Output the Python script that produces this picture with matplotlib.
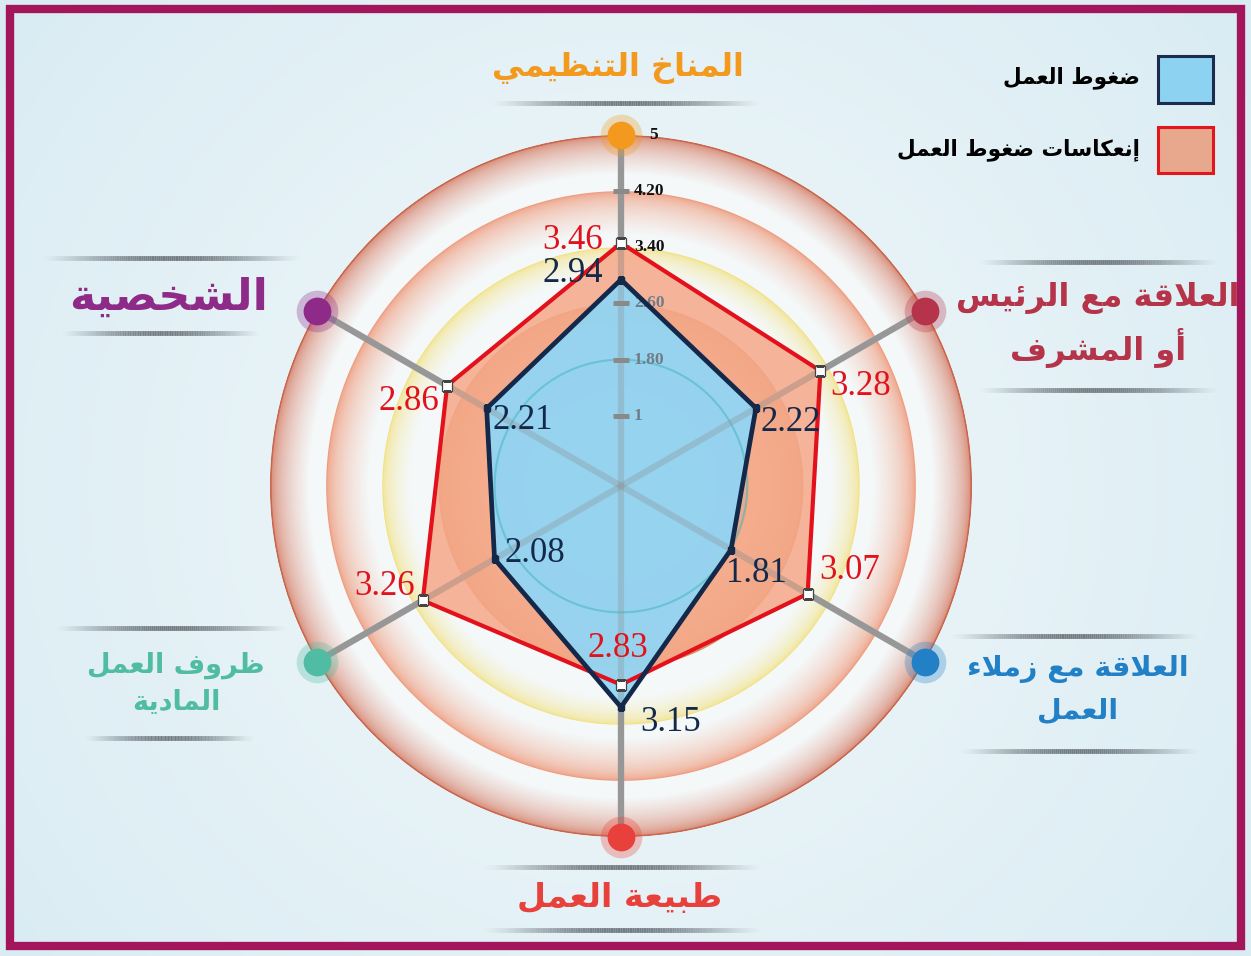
import numpy as np
import matplotlib.pyplot as plt
from matplotlib.colors import to_rgb
from matplotlib.collections import LineCollection
from matplotlib.patches import Rectangle

# ---- data ----
categories = ["المناخ التنظيمي", "العلاقة مع الرئيس\nأو المشرف", "العلاقة مع زملاء\nالعمل",
              "طبيعة العمل", "ظروف العمل\nالمادية", "الشخصية"]
work_stress = [2.94, 2.22, 1.81, 3.15, 2.08, 2.21]
stress_effects = [3.46, 3.28, 3.07, 2.83, 3.26, 2.86]
series_names = ["ضغوط العمل", "إنعكاسات ضغوط العمل"]
tick_values = [1, 1.8, 2.6, 3.4, 4.2, 5]
tick_labels = ["1", "1.80", "2.60", "3.40", "4.20", "5"]

cat_colors = ["#f39a1e", "#b5344a", "#2280c6", "#e8403a", "#50bca4", "#8e2a88"]

# ---- arabic shaping (matplotlib has no complex text layout) ----
FOUR = {'ئ': 0xFE89, 'ب': 0xFE8F, 'ت': 0xFE95, 'ث': 0xFE99, 'ج': 0xFE9D, 'ح': 0xFEA1,
        'خ': 0xFEA5, 'س': 0xFEB1, 'ش': 0xFEB5, 'ص': 0xFEB9, 'ض': 0xFEBD, 'ط': 0xFEC1,
        'ظ': 0xFEC5, 'ع': 0xFEC9, 'غ': 0xFECD, 'ف': 0xFED1, 'ق': 0xFED5, 'ك': 0xFED9,
        'ل': 0xFEDD, 'م': 0xFEE1, 'ن': 0xFEE5, 'ه': 0xFEE9, 'ي': 0xFEF1}
TWO = {'آ': 0xFE81, 'أ': 0xFE83, 'ؤ': 0xFE85, 'إ': 0xFE87, 'ا': 0xFE8D, 'ة': 0xFE93,
       'د': 0xFEA9, 'ذ': 0xFEAB, 'ر': 0xFEAD, 'ز': 0xFEAF, 'و': 0xFEED, 'ى': 0xFEEF}
LAMALEF = {'آ': 0xFEF5, 'أ': 0xFEF7, 'إ': 0xFEF9, 'ا': 0xFEFB}


def shape_line(s):
    out, i, n = [], 0, len(s)
    while i < n:
        c = s[i]
        prev = i > 0 and s[i - 1] in FOUR
        if c == 'ل' and i + 1 < n and s[i + 1] in LAMALEF:
            out.append(chr(LAMALEF[s[i + 1]] + (1 if prev else 0)))
            i += 2
            continue
        nxt = i + 1 < n and (s[i + 1] in FOUR or s[i + 1] in TWO or s[i + 1] == 'ء')
        if c in FOUR:
            b = FOUR[c]
            out.append(chr(b + 3 if prev and nxt else b + 1 if prev else b + 2 if nxt else b))
        elif c in TWO:
            out.append(chr(TWO[c] + (1 if prev else 0)))
        elif c == 'ء':
            out.append(chr(0xFE80))
        else:
            out.append(c)
        i += 1
    return ''.join(out)[::-1]


def ar(s):
    return '\n'.join(shape_line(l) for l in s.split('\n'))


def mix(c1, c2, t):
    a, b = np.array(to_rgb(c1)), np.array(to_rgb(c2))
    return tuple(a + (b - a) * t)


W, H = 1251, 956
fig = plt.figure(figsize=(W / 100, H / 100), dpi=100)

# ---- background ----
bg = fig.add_axes([0, 0, 1, 1])
bg.set_xlim(0, W)
bg.set_ylim(H, 0)
bg.axis('off')
yy, xx = np.mgrid[0:H:4, 0:W:4]
d = np.sqrt((xx - 621) ** 2 + (yy - 486) ** 2) / 800
d = np.clip(d, 0, 1)
c0, c1 = np.array(to_rgb('#f2f8fa')), np.array(to_rgb('#d9ecf3'))
img = c0 + (c1 - c0) * d[..., None]
bg.imshow(img, extent=[0, W, H, 0], aspect='auto', zorder=0)
bg.add_patch(Rectangle((10, 9), W - 20, H - 19, fill=False, ec='#a4165b', lw=6, zorder=10))

# separator shadows
seps = [(625, 103, 135), (1097, 262, 120), (1097, 390, 120), (1073, 636, 125), (1078, 751, 120),
        (621, 867, 140), (621, 930, 140), (170, 628, 117), (168, 738, 85), (170, 258, 130),
        (160, 333, 100)]
for cx, cy, hw in seps:
    xs = np.linspace(cx - hw, cx + hw, 120)
    segs = [[(xs[k], cy), (xs[k + 1], cy)] for k in range(len(xs) - 1)]
    u = (xs[:-1] - cx) / hw
    cols = [(0.3, 0.33, 0.36, 0.75 * max(0, 1 - abs(v) ** 2) ** 1.5) for v in u]
    bg.add_collection(LineCollection(segs, colors=cols, linewidths=3.5, zorder=2))

# ---- radar ----
R = 351
ax = fig.add_axes([(621 - R) / W, (H - 486 - R) / H, 2 * R / W, 2 * R / H], projection='polar')
ax.set_theta_zero_location('N')
ax.set_theta_direction(-1)
ax.set_ylim(0, 5)
ax.axis('off')
ax.patch.set_alpha(0)

full = np.linspace(0, 2 * np.pi, 361)
white = '#f4f8f9'


def ring(r_out, width, c_edge, c_in, n=40, p=0.5, z=1):
    for i in range(n):
        t = i / (n - 1)
        ax.fill(full, np.full_like(full, r_out - width * t), color=mix(c_edge, c_in, t ** p),
                lw=0, zorder=z)


ring(5.0, 0.55, '#d47a62', white)
ax.plot(full, np.full_like(full, 4.99), color='#c9664e', lw=1.2, zorder=1)
ring(4.2, 0.6, '#ee9c7e', white)
ring(3.4, 0.4, '#f1e07e', white, p=0.4)
ring(2.6, 0.6, '#d98f60', '#ebbd98')
ring(1.8, 0.45, '#35b2b5', '#bde6ee', p=0.35)

theta = np.arange(len(categories)) * 2 * np.pi / len(categories)

# spokes and ticks
for th in theta:
    ax.plot([th, th], [0, 5], color='#9c9c9c', lw=4.5, zorder=2, solid_capstyle='butt')
    ax.plot([th, th], [0, 5], color='#8c8c8c', lw=4.5, alpha=0.3, zorder=4.5,
            solid_capstyle='butt')
ax.plot(np.zeros(len(tick_values) - 1), tick_values[:-1], ls='none', marker='_', ms=11, mew=3.5,
        color='#8a8a8a', zorder=4.6)
for v, lab in zip(tick_values, tick_labels):
    col = '#111111' if v >= 3.4 else '#707c86'
    ax.annotate(lab, xy=(0, v), xytext=(28 if v == 5 else 13, 0), textcoords='offset pixels',
                ha='left', va='center', fontsize=12.5, fontweight='bold',
                family='Liberation Serif', color=col, zorder=4.7)

tc = np.append(theta, theta[0])
se = np.append(stress_effects, stress_effects[0])
ws = np.append(work_stress, work_stress[0])
ax.fill(tc, se, color='#f6a98a', alpha=0.85, lw=0, zorder=3)
ax.fill(tc, ws, color='#8fd6f7', alpha=0.92, lw=0, zorder=4)
ax.plot(full, np.full_like(full, 1.8), color='#35b2b5', lw=1.5, alpha=0.45, zorder=4.2)
ax.plot(tc, se, color='#e3111b', lw=3, zorder=5)
ax.plot(tc, ws, color='#14284a', lw=3.4, zorder=6)
ax.plot(theta, stress_effects, ls='none', marker='s', ms=6.5, mfc='white', mec='#444444', mew=0.9,
        zorder=6.5)
ax.plot(theta, work_stress, ls='none', marker='s', ms=5, mfc='#14284a', mec='#14284a', zorder=6.5)

red_off = [(-48, 3), (40, -16), (42, 23), (-3, 36), (-38, 14), (-38, -16)]
blue_off = [(-48, 6), (35, -14), (25, -24), (50, -15), (40, 6), (36, -12)]
for th, v, o in zip(theta, stress_effects, red_off):
    ax.annotate(f"{v:.2f}", xy=(th, v), xytext=o, textcoords='offset pixels', ha='center',
                va='center', fontsize=25, family='Liberation Serif', color='#e0121b', zorder=7)
for th, v, o in zip(theta, work_stress, blue_off):
    ax.annotate(f"{v:.2f}", xy=(th, v), xytext=o, textcoords='offset pixels', ha='center',
                va='center', fontsize=25, family='Liberation Serif', color='#14284a', zorder=7)

# category dots
for th, c in zip(theta, cat_colors):
    ax.plot(th, 5, marker='o', ms=30, color=c, alpha=0.3, mew=0, clip_on=False, zorder=8)
    ax.plot(th, 5, marker='o', ms=20, color=c, mew=0, clip_on=False, zorder=9)

# ---- category labels ----
lab_pos = [(618, 68), (1098, 325), (1078, 690), (620, 897), (176, 684), (169, 297)]
lab_size = [23, 23, 20.5, 24, 19.5, 32]
lab_spacing = [1.3, 1.45, 1.65, 1.3, 1.55, 1.3]
for txt, (x, y), fs, ls, c in zip(categories, lab_pos, lab_size, lab_spacing, cat_colors):
    bg.text(x, y, ar(txt), ha='center', va='center', fontsize=fs, fontweight='bold',
            family='DejaVu Sans', color=c, linespacing=ls, zorder=5)

# ---- legend ----
bg.add_patch(Rectangle((1158, 56), 55, 47, fc='#8dd2f1', ec='#1b2c4c', lw=2.2, zorder=5))
bg.add_patch(Rectangle((1158, 127), 55, 46, fc='#e8a88e', ec='#e3161e', lw=2.2, zorder=5))
for name, y in zip(series_names, [78, 150]):
    bg.text(1140, y, ar(name), ha='right', va='center', fontsize=15.5, fontweight='bold',
            family='DejaVu Sans', color='black', zorder=5)

fig.savefig('out.png', dpi=100)
